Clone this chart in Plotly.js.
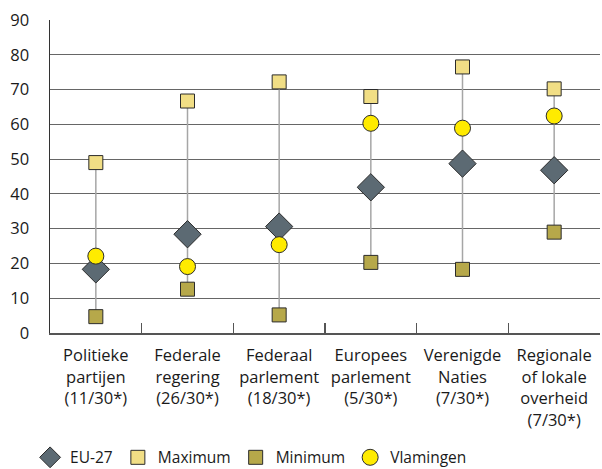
<!DOCTYPE html>
<html>
<head>
<meta charset="utf-8">
<script src="https://cdn.plot.ly/plotly-3.0.1.min.js"></script>
<style>html,body{margin:0;padding:0;background:#fff;}</style>
</head>
<body>
<div id="chart" style="width:602px;height:469px;"></div>
<script>
var categories = [
  "Politieke<br>partijen<br>(11/30*)",
  "Federale<br>regering<br>(26/30*)",
  "Federaal<br>parlement<br>(18/30*)",
  "Europees<br>parlement<br>(5/30*)",
  "Verenigde<br>Naties<br>(7/30*)",
  "Regionale<br>of lokale<br>overheid<br>(7/30*)"
];
var eu27      = [18.3, 28.4, 30.6, 41.9, 48.7, 46.8];
var maximum   = [49.0, 66.7, 72.2, 68.0, 76.5, 70.2];
var minimum   = [4.7, 12.6, 5.2, 20.3, 18.3, 29.0];
var vlamingen = [22.1, 19.1, 25.4, 60.3, 58.9, 62.4];
var yTicks = [0, 10, 20, 30, 40, 50, 60, 70, 80, 90];

var lx = [], ly = [];
for (var i = 0; i < categories.length; i++) {
  lx.push(categories[i], categories[i], null);
  ly.push(minimum[i], maximum[i], null);
}

var font = "Open Sans, Noto Sans, sans-serif";
var fsize = 16.5;
var outline = {color: "#2b2b2b", width: 1};

var traces = [
  {x: lx, y: ly, mode: "lines", line: {color: "#a6a6a6", width: 1.5},
   showlegend: false, hoverinfo: "skip", connectgaps: false},
  {x: categories, y: eu27, name: "EU-27", mode: "markers",
   marker: {symbol: "diamond", size: 21, color: "#5c6a73", line: outline}},
  {x: categories, y: maximum, name: "Maximum", mode: "markers",
   marker: {symbol: "square", size: 14, color: "#f1de85", line: outline}},
  {x: categories, y: minimum, name: "Minimum", mode: "markers",
   marker: {symbol: "square", size: 14, color: "#b6a84a", line: outline}},
  {x: categories, y: vlamingen, name: "Vlamingen", mode: "markers",
   marker: {symbol: "circle", size: 16, color: "#ffeb00", line: outline}}
];

var layout = {
  width: 602, height: 469,
  margin: {l: 50, r: 2, t: 20, b: 136},
  paper_bgcolor: "#fff", plot_bgcolor: "#fff",
  font: {family: font, size: fsize, color: "#1a1a1a"},
  showlegend: true,
  legend: {
    orientation: "h", xref: "container", yref: "container",
    x: 0.05, y: 0.024, xanchor: "left", yanchor: "middle",
    itemgap: 3, font: {family: font, size: 15.5, color: "#1a1a1a"},
    traceorder: "normal"
  },
  xaxis: {
    type: "category", tickson: "boundaries", ticks: "inside", ticklen: 10,
    tickcolor: "#555", tickwidth: 1.5, showline: true, linecolor: "#555", linewidth: 1.5,
    showgrid: false, zeroline: false, tickfont: {family: font, size: fsize, color: "#1a1a1a"},
    ticklabelstandoff: 7,
    range: [-0.5, 5.5], fixedrange: true
  },
  yaxis: {
    range: [0, 90], tickvals: yTicks, ticktext: yTicks.map(String),
    showgrid: true, gridcolor: "#666", gridwidth: 1.2,
    showline: true, linecolor: "#333", linewidth: 1.5, zeroline: false,
    ticks: "", ticklabelstandoff: 16, tickfont: {family: font, size: fsize, color: "#1a1a1a"}
  }
};

Plotly.newPlot("chart", traces, layout, {displayModeBar: false, staticPlot: true});
</script>
</body>
</html>
